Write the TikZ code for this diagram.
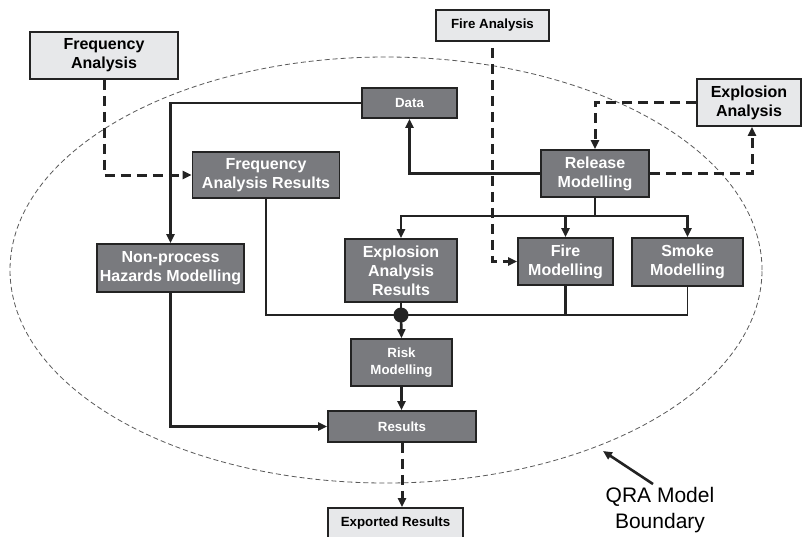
\documentclass[tikz,border=0pt]{standalone}
\usepackage{fontspec}
\setmainfont{Liberation Sans}
\usepackage{xcolor}
\usepackage{tikz}
\usetikzlibrary{arrows.meta,positioning,calc}

\definecolor{boxdark}{RGB}{121,122,126}
\definecolor{boxlight}{RGB}{231,232,234}
\definecolor{boxline}{RGB}{35,35,35}

\begin{document}
\begin{tikzpicture}[x=1pt, y=-1pt,
    bigfont/.style={font={\fontsize{16}{19}\selectfont\bfseries}},
    smallfont/.style={font={\fontsize{13.3}{17}\selectfont\bfseries}},
    darkbox/.style={draw=boxline, fill=boxdark, text=white, line width=1.6pt, align=center, inner sep=0pt},
    lightbox/.style={draw=boxline, fill=boxlight, text=black, line width=1.6pt, align=center, inner sep=0pt},
    thickline/.style={draw=boxline, line width=2.6pt},
    thinline/.style={draw=boxline, line width=1.4pt},
    dashline/.style={draw=boxline, line width=3pt, dash pattern=on 10pt off 6pt},
    tip/.style={-{Triangle[length=9pt,width=8pt]}}]
    \fill[white] (0,0) rectangle (802,536);
    \useasboundingbox (0,0) rectangle (802,536);

    % QRA model boundary
    \draw[gray!70!black, line width=0.8pt, dash pattern=on 5pt off 3pt]
        (386,270) ellipse [x radius=376pt, y radius=213pt];

    % Outside inputs and output
    \node[lightbox, bigfont, minimum width=148pt, minimum height=47pt] (freqA) at (104,55.5) {Frequency\\Analysis};
    \node[lightbox, smallfont, minimum width=113pt, minimum height=31pt] (fireA) at (492.5,25.5) {Fire Analysis};
    \node[lightbox, bigfont, minimum width=104pt, minimum height=47pt] (explA) at (749,102.5) {Explosion\\Analysis};
    \node[lightbox, smallfont, minimum width=135pt, minimum height=30pt] (export) at (395.5,523) {Exported Results};

    % Model blocks
    \node[darkbox, smallfont, minimum width=95pt, minimum height=30pt] (data) at (409.5,103) {Data};
    \node[darkbox, bigfont, minimum width=147pt, minimum height=46pt] (freqR) at (266,175) {Frequency\\Analysis Results};
    \node[darkbox, bigfont, minimum width=108pt, minimum height=47pt] (release) at (595,173.5) {Release\\Modelling};
    \node[darkbox, bigfont, minimum width=147pt, minimum height=48pt] (nonproc) at (170.5,268) {Non-process\\Hazards Modelling};
    \node[darkbox, bigfont, minimum width=112pt, minimum height=63pt] (explR) at (401,270.5) {Explosion\\Analysis\\Results};
    \node[darkbox, bigfont, minimum width=95pt, minimum height=47pt] (fireM) at (565.5,261.5) {Fire\\Modelling};
    \node[darkbox, bigfont, minimum width=111pt, minimum height=48pt] (smoke) at (687.5,262) {Smoke\\Modelling};
    \node[darkbox, smallfont, minimum width=101pt, minimum height=47pt] (risk) at (401.5,362.5) {Risk\\Modelling};
    \node[darkbox, smallfont, minimum width=148pt, minimum height=31pt] (results) at (402,426.5) {Results};

    % Dashed links to outside analyses
    \draw[dashline, tip] (freqA.south) |- (freqR.west);
    \draw[dashline, dash phase=10pt, tip] (fireA.south) |- (fireM.west);
    \draw[dashline, tip] (explA.west) -| (release.north);
    \draw[dashline, tip] (release.east) -| ([xshift=3pt]explA.south);
    \draw[dashline, tip] (results.south) -- (results.south |- export.north);

    % Data flow
    \draw[thickline, tip] (data.west) -| (nonproc.north);
    \draw[thickline, tip] (release.west) -| (data.south);
    \coordinate (split) at (595,216);
    \draw[thickline] (release.south) -- (split);
    \draw[thickline, tip] (split) -| (explR.north);
    \draw[thickline, tip] (split) -| (fireM.north);
    \draw[thickline, tip] (split) -| (smoke.north);

    % Collect into risk model
    \coordinate (join) at (401,315);
    \draw[thinline] (freqR.south) |- (join);
    \draw[thinline] (smoke.south) |- (fireM.south |- join);
    \draw[thickline] (fireM.south) |- (join);
    \draw[thickline] (explR.south) -- (join);
    \fill[boxline] (join) circle (7.5pt);
    \draw[thickline, tip] (join) -- (risk.north);
    \draw[thickline, tip] (risk.south) -- (risk.south |- results.north);
    \draw[thickline, tip] (nonproc.south) |- (results.west);

    % Boundary label
    \node[font={\fontsize{21}{26}\selectfont}, align=center, inner sep=0pt] (qra) at (660,510) {QRA Model\\Boundary};
    \coordinate (bnd) at (603,451);
    \draw[thickline, tip] ([shift={(-7,-3)}]qra.north) -- (bnd);
\end{tikzpicture}
\end{document}
